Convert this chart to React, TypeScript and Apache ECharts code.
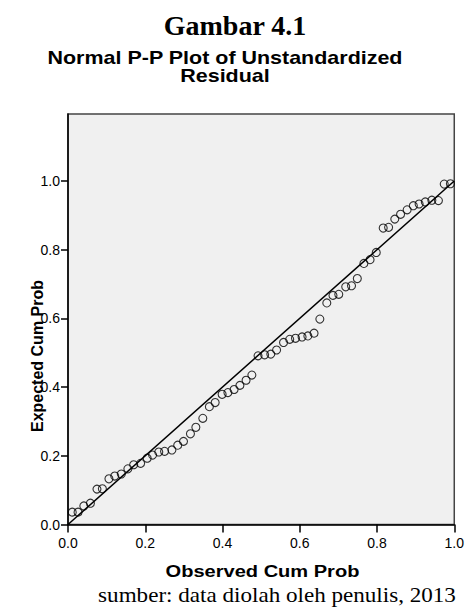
import React, { useEffect, useRef } from "react";
import * as echarts from "echarts";

// Observed cumulative probability (x) and expected cumulative probability (y)
const observed = [
  0.011, 0.026, 0.041, 0.058, 0.075, 0.089, 0.106, 0.121, 0.138, 0.155,
  0.17, 0.188, 0.205, 0.219, 0.235, 0.25, 0.269, 0.284, 0.299, 0.317,
  0.331, 0.349, 0.366, 0.381, 0.399, 0.414, 0.43, 0.445, 0.461, 0.476,
  0.492, 0.509, 0.525, 0.54, 0.558, 0.574, 0.589, 0.606, 0.621, 0.637,
  0.652, 0.67, 0.686, 0.701, 0.719, 0.734, 0.749, 0.766, 0.782, 0.798,
  0.816, 0.83, 0.846, 0.861, 0.878, 0.894, 0.909, 0.925, 0.942, 0.959,
  0.974, 0.99,
];
const expected = [
  0.036, 0.036, 0.054, 0.062, 0.103, 0.104, 0.133, 0.141, 0.147, 0.162,
  0.174, 0.178, 0.193, 0.202, 0.211, 0.213, 0.217, 0.231, 0.242, 0.264,
  0.283, 0.309, 0.343, 0.355, 0.379, 0.384, 0.393, 0.405, 0.42, 0.435,
  0.491, 0.494, 0.496, 0.508, 0.53, 0.539, 0.542, 0.546, 0.549, 0.557,
  0.598, 0.645, 0.667, 0.67, 0.692, 0.695, 0.716, 0.76, 0.771, 0.792,
  0.863, 0.865, 0.889, 0.903, 0.916, 0.928, 0.933, 0.939, 0.944, 0.943,
  0.991, 0.992,
];
const diagonal = [
  [0, 0],
  [1, 1],
];
const tickValues = [0, 0.2, 0.4, 0.6, 0.8, 1.0];

const figureTitle = "Gambar 4.1";
const chartTitle = ["Normal P-P Plot of Unstandardized", "Residual"];
const xName = "Observed Cum Prob";
const yName = "Expected Cum Prob";
const caption = "sumber: data diolah oleh penulis, 2013";

const SANS = "'Liberation Sans', Arial, sans-serif";
const SERIF = "'Liberation Serif', 'Times New Roman', serif";

function txt(
  text: string,
  x: number,
  y: number,
  font: string,
  size: number,
  weight: string,
  scaleX = 1,
  rotation = 0
) {
  return {
    type: "text",
    x,
    y,
    scaleX,
    rotation,
    silent: true,
    style: {
      text,
      x: 0,
      y: 0,
      fill: "#000",
      font: `${weight} ${size}px ${font}`,
      fontFamily: font,
      fontSize: size,
      fontWeight: weight,
      align: "center",
      verticalAlign: "middle",
      textAlign: "center",
      textVerticalAlign: "middle",
    },
  };
}

export default function App() {
  const ref = useRef<HTMLDivElement>(null);
  useEffect(() => {
    if (!ref.current) return;
    const chart = echarts.init(ref.current, undefined, { renderer: "svg" });
    const points = observed.map((o, i) => [o, expected[i]]);
    chart.setOption({
      animation: false,
      backgroundColor: "#fff",
      grid: {
        left: 68,
        top: 114,
        right: 11.3,
        bottom: 83.5,
        show: true,
        backgroundColor: "#f0f0f0",
        borderColor: "#444",
        borderWidth: 1.5,
        containLabel: false,
      },
      xAxis: {
        type: "value",
        min: 0,
        max: 1,
        interval: 0.2,
        axisLine: { show: true, onZero: false, lineStyle: { color: "#000", width: 1.5 } },
        axisTick: { show: true, length: 8, lineStyle: { color: "#000", width: 1.5 } },
        splitLine: { show: false },
        axisLabel: {
          color: "#000",
          fontFamily: SANS,
          fontSize: 14,
          margin: 11,
          formatter: (v: number) => v.toFixed(1),
        },
      },
      yAxis: {
        type: "value",
        min: 0,
        max: 1.195,
        interval: 0.2,
        axisLine: { show: true, onZero: false, lineStyle: { color: "#000", width: 1.5 } },
        axisTick: {
          show: true,
          length: 7,
          customValues: tickValues,
          lineStyle: { color: "#000", width: 1.5 },
        },
        splitLine: { show: false },
        axisLabel: {
          color: "#000",
          fontFamily: SANS,
          fontSize: 14,
          margin: 8,
          customValues: tickValues,
          formatter: (v: number) => v.toFixed(1),
        },
      },
      series: [
        {
          type: "line",
          data: diagonal,
          symbol: "none",
          lineStyle: { color: "#000", width: 1.5 },
          silent: true,
          z: 2,
        },
        {
          type: "scatter",
          data: points,
          symbol: "circle",
          symbolSize: 8,
          itemStyle: {
            color: "rgba(0,0,0,0)",
            borderColor: "#000",
            borderWidth: 1.1,
          },
          z: 3,
        },
      ],
      graphic: [
        txt(figureTitle, 235, 25, SERIF, 28, "bold"),
        txt(chartTitle[0], 225, 57, SANS, 19, "bold", 1.13),
        txt(chartTitle[1], 225, 75, SANS, 19, "bold", 1.13),
        txt(yName, 37, 356, SANS, 16, "bold", 1, Math.PI / 2),
        txt(xName, 262.5, 571, SANS, 17, "bold", 1.18),
        txt(caption, 277, 595, SERIF, 21, "normal", 1.1),
      ],
    });
    return () => chart.dispose();
  }, []);
  return (
    <div
      ref={ref}
      style={{ position: "fixed", left: 0, top: 0, width: 467, height: 608 }}
    />
  );
}
